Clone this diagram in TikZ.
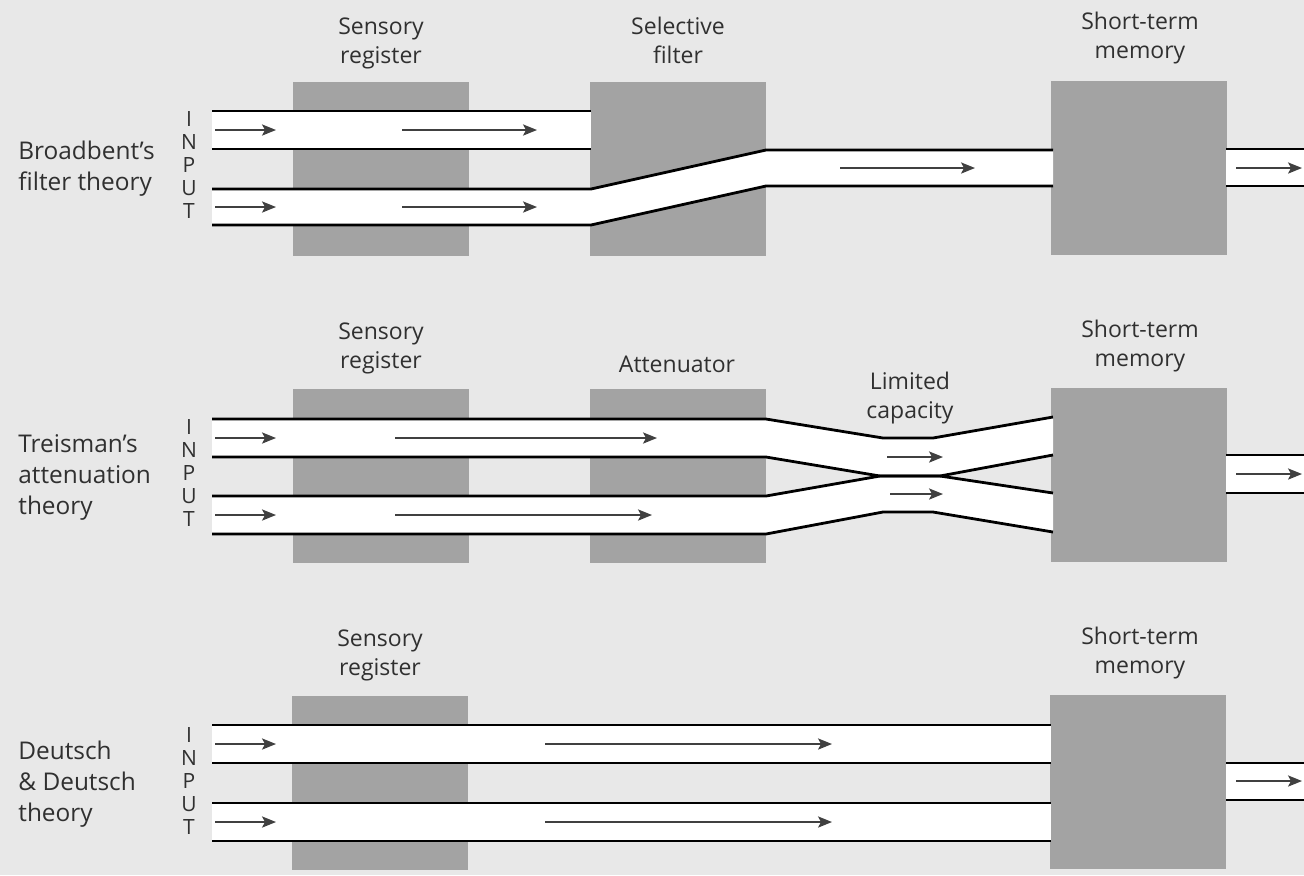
\documentclass[tikz,border=0pt]{standalone}
\usepackage{fontspec}
\setmainfont{Open Sans}
\usepackage{tikz}
\usetikzlibrary{positioning,arrows.meta}
\definecolor{paperGray}{HTML}{E8E8E8}
\definecolor{stageGray}{HTML}{A3A3A3}
\definecolor{inkGray}{HTML}{303030}

\begin{document}
\begin{tikzpicture}[x=0.5pt, y=-0.5pt,
    stageBox/.style={rectangle, fill=stageGray, draw=none, minimum width=88pt, minimum height=87pt, inner sep=0pt},
    stageLabel/.style={font=\fontsize{11.5}{14.5}\selectfont, text=inkGray, align=center, inner sep=0pt},
    theoryLabel/.style={font=\fontsize{12.2}{15.5}\selectfont, text=inkGray, align=left, anchor=west, inner sep=0pt},
    inputLabel/.style={font=\fontsize{10.5}{11.5}\selectfont, text=inkGray, align=center, inner sep=0pt},
    channelLine/.style={line width=1.4pt, draw=black, line join=round},
    flowArrow/.style={-{Stealth[length=7pt, width=5.6pt, inset=1.5pt]}, line width=0.8pt, draw=black!75}
]
    \fill[paperGray] (0,0) rectangle (1304,875);
    \useasboundingbox (0,0) rectangle (1304,875);

    % Broadbent
    \node[stageBox] (sens1) at (381,169) {};
    \node[stageBox] (filt1) at (678,169) {};
    \node[stageBox] (stm1) at (1139,168) {};
    \node[stageLabel] (sensLbl1) at (381,43) {Sensory\\register};
    \node[stageLabel] (filtLbl1) at (678,40) {Selective\\filter};
    \node[stageLabel] (stmLbl1) at (1140,38) {Short-term\\memory};
    \node[theoryLabel] (theory1) at (18,169) {Broadbent's\\filter theory};
    \node[inputLabel] (input1) at (189,165) {I\\N\\P\\U\\T};

    \fill[white] (212,111) rectangle (591,149);
    \fill[white] (212,189) -- (591,189) -- (766,150) -- (1053,150) -- (1053,186) -- (766,186) -- (591,225) -- (212,225) -- cycle;
    \draw[channelLine] (212,111) -- (591,111) (212,149) -- (591,149);
    \draw[channelLine] (212,189) -- (591,189) -- (766,150) -- (1053,150);
    \draw[channelLine] (212,225) -- (591,225) -- (766,186) -- (1053,186);
    \draw[flowArrow] (402,130) -- (537,130);
    \draw[flowArrow] (402,207) -- (537,207);
    \draw[flowArrow] (840,168) -- (975,168);

    % Treisman
    \node[stageBox] (sens2) at (381,476) {};
    \node[stageBox] (att2) at (678,476) {};
    \node[stageBox] (stm2) at (1139,475) {};
    \node[stageLabel] (sensLbl2) at (381,348) {Sensory\\register};
    \node[stageLabel] (attLbl2) at (677,364) {Attenuator};
    \node[stageLabel] (capLbl2) at (910,398) {Limited\\capacity};
    \node[stageLabel] (stmLbl2) at (1140,346) {Short-term\\memory};
    \node[theoryLabel] (theory2) at (18,477) {Treisman's\\attenuation\\theory};
    \node[inputLabel] (input2) at (189,473) {I\\N\\P\\U\\T};

    \fill[white] (212,419) -- (766,419) -- (883,438) -- (933,438) -- (1053,417) -- (1053,455) -- (940,476) -- (880,476) -- (766,457) -- (212,457) -- cycle;
    \fill[white] (212,496) -- (766,496) -- (880,476) -- (940,476) -- (1053,493) -- (1053,532) -- (933,512) -- (883,512) -- (766,534) -- (212,534) -- cycle;
    \draw[channelLine] (212,419) -- (766,419) -- (883,438) -- (933,438) -- (1053,417);
    \draw[channelLine] (212,457) -- (766,457) -- (880,476) -- (940,476) -- (1053,455);
    \draw[channelLine] (212,496) -- (766,496) -- (880,476) -- (940,476) -- (1053,493);
    \draw[channelLine] (212,534) -- (766,534) -- (883,512) -- (933,512) -- (1053,532);
    \draw[flowArrow] (395,438) -- (657,438);
    \draw[flowArrow] (395,515) -- (652,515);
    \draw[flowArrow] (887,457) -- (943,457);
    \draw[flowArrow] (890,494) -- (943,494);

    % Deutsch & Deutsch
    \node[stageBox] (sens3) at (380,783) {};
    \node[stageBox] (stm3) at (1138,782) {};
    \node[stageLabel] (sensLbl3) at (380,655) {Sensory\\register};
    \node[stageLabel] (stmLbl3) at (1140,653) {Short-term\\memory};
    \node[theoryLabel] (theory3) at (18,784) {Deutsch\\\& Deutsch\\theory};
    \node[inputLabel] (input3) at (189,781) {I\\N\\P\\U\\T};

    \fill[white] (212,725) rectangle (1051,763);
    \fill[white] (212,803) rectangle (1051,841);
    \draw[channelLine] (212,725) -- (1051,725) (212,763) -- (1051,763);
    \draw[channelLine] (212,803) -- (1051,803) (212,841) -- (1051,841);
    \draw[flowArrow] (545,744) -- (832,744);
    \draw[flowArrow] (545,822) -- (832,822);

    \foreach \y in {130,207,438,515,744,822}
        \draw[flowArrow] (215,\y) -- (276,\y);
    \foreach \t/\b/\m in {149/186/168, 455/493/474, 763/800/781} {
        \fill[white] (1226,\t) rectangle (1304,\b);
        \draw[channelLine] (1226,\t) -- (1304,\t) (1226,\b) -- (1304,\b);
        \draw[flowArrow] (1236,\m) -- (1302,\m);
    }
\end{tikzpicture}
\end{document}
